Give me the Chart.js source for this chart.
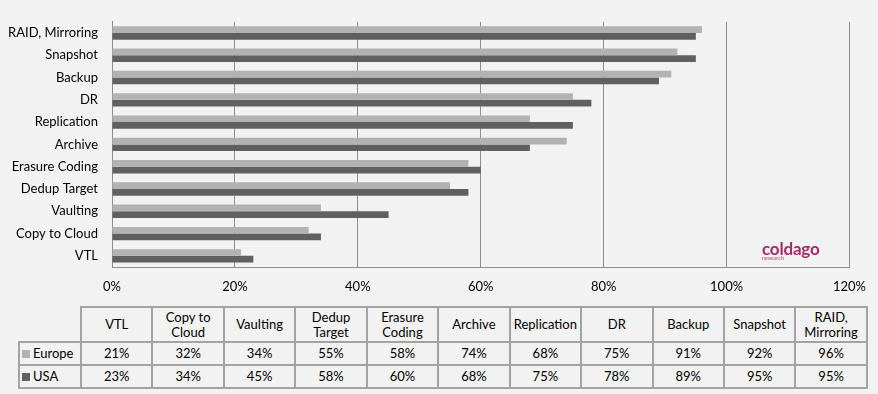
<!DOCTYPE html>
<html>
<head>
<meta charset="utf-8">
<script src="https://cdn.jsdelivr.net/npm/chart.js@4.4.0/dist/chart.umd.min.js"></script>
<style>
  html, body { margin: 0; padding: 0; background: #f2f2f2; }
  #wrap { position: relative; width: 878px; height: 394px; overflow: hidden; }
  #chart { position: absolute; left: 0; top: 0; }
  #logo { position: absolute; left: 762px; top: 240px; color: #a8286b; font-family: Lato, sans-serif; }
  #logo .big { font-size: 17px; font-weight: bold; line-height: 17px; letter-spacing: -0.2px; }
  #logo .small { font-size: 6px; line-height: 6px; margin-top: -2px; opacity: 0.8; }
  #tbl { position: absolute; left: 18px; top: 306px; border-collapse: collapse; table-layout: fixed;
         font-family: Lato, sans-serif; font-size: 13px; color: #000; }
  #tbl td { border: 2px solid #a3a3a3; text-align: center; padding: 0; line-height: 15px; }
  #tbl tr.head td { height: 33px; }
  #tbl tr.row td { height: 21px; }
  #tbl td.corner { border-top: hidden; border-left: hidden; }
  #tbl td.lab { text-align: left; padding-left: 2px; }
  .sw { display: inline-block; width: 8px; height: 8px; margin-right: 3px; }
</style>
</head>
<body>
<div id="wrap">
  <canvas id="chart" width="878" height="300"></canvas>
  <div id="logo"><div class="big">coldago</div><div class="small">research</div></div>
  <table id="tbl"></table>
</div>
<script>
// table order (left to right); the chart shows them bottom to top
const categories = ["VTL", "Copy to Cloud", "Vaulting", "Dedup Target", "Erasure Coding",
  "Archive", "Replication", "DR", "Backup", "Snapshot", "RAID, Mirroring"];
const headerLines = [["VTL"], ["Copy to", "Cloud"], ["Vaulting"], ["Dedup", "Target"], ["Erasure", "Coding"],
  ["Archive"], ["Replication"], ["DR"], ["Backup"], ["Snapshot"], ["RAID,", "Mirroring"]];
const europe = [21, 32, 34, 55, 58, 74, 68, 75, 91, 92, 96];
const usa = [23, 34, 45, 58, 60, 68, 75, 78, 89, 95, 95];
const seriesNames = ["Europe", "USA"];
const seriesColors = ["#b2b2b2", "#606060"];
const xTicks = [0, 20, 40, 60, 80, 100, 120];

const gridColor = "#8e8e8e";
const font = { family: "Lato, sans-serif", size: 13 };

new Chart(document.getElementById("chart"), {
  type: "bar",
  data: {
    labels: categories.slice().reverse(),
    datasets: [
      { label: seriesNames[0], data: europe.slice().reverse(), backgroundColor: seriesColors[0] },
      { label: seriesNames[1], data: usa.slice().reverse(), backgroundColor: seriesColors[1] },
    ],
  },
  options: {
    indexAxis: "y",
    responsive: false,
    animation: false,
    categoryPercentage: 0.6,
    barPercentage: 1.0,
    layout: { padding: { top: 10, right: 26, left: 0, bottom: 0 } },
    plugins: { legend: { display: false }, tooltip: { enabled: false } },
    scales: {
      x: {
        min: xTicks[0],
        max: xTicks[xTicks.length - 1],
        afterBuildTicks: (scale) => { scale.ticks = xTicks.map((v) => ({ value: v })); },
        afterFit: (scale) => { scale.height = 33; },
        grid: { color: gridColor, drawTicks: false },
        border: { color: gridColor },
        ticks: { color: "#000", font: font, padding: 12, callback: (v) => v + "%" },
      },
      y: {
        afterFit: (scale) => { scale.width = 112; },
        grid: { display: false, drawTicks: false },
        border: { color: gridColor },
        ticks: { color: "#000", font: font, padding: 14 },
      },
    },
  },
});

// data table under the chart
const tbl = document.getElementById("tbl");
let html = '<colgroup><col style="width:62px">' + categories.map(() => '<col style="width:71.45px">').join("") + "</colgroup>";
html += '<tr class="head"><td class="corner"></td>' + headerLines.map((l) => "<td>" + l.join("<br>") + "</td>").join("") + "</tr>";
[europe, usa].forEach((vals, i) => {
  html += '<tr class="row"><td class="lab"><span class="sw" style="background:' + seriesColors[i] + '"></span>' +
    seriesNames[i] + "</td>" + vals.map((v) => "<td>" + v + "%</td>").join("") + "</tr>";
});
tbl.innerHTML = html;
</script>
</body>
</html>
